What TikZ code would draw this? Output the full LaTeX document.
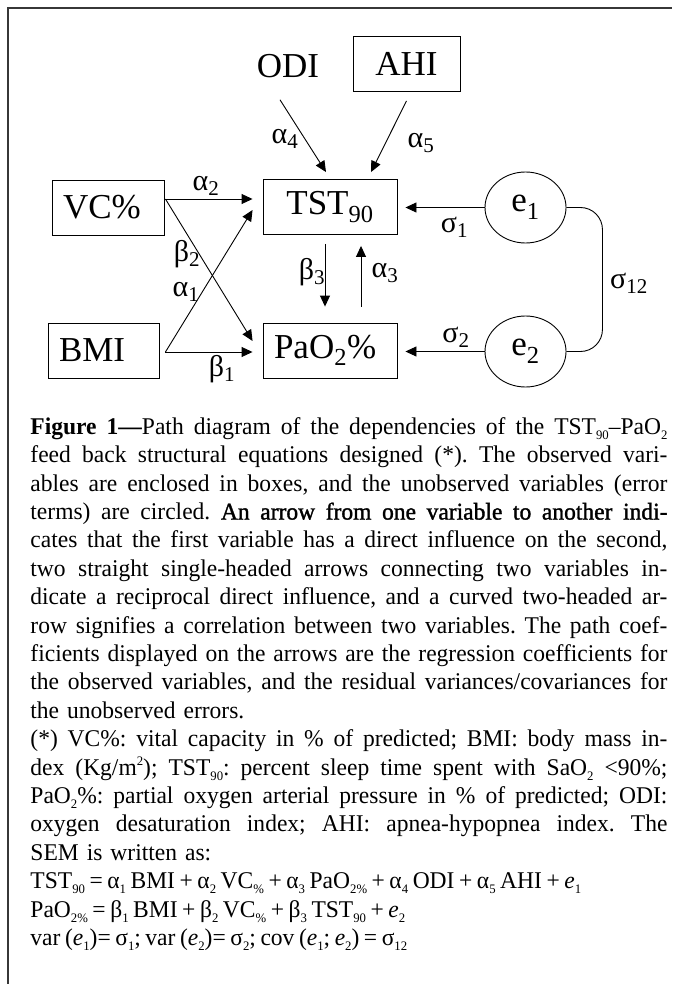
\documentclass[tikz,border=0pt]{standalone}
\usepackage{fontspec}
\setmainfont{Liberation Serif}
\newfontfamily\capfamily[Ligatures=TeX, FakeStretch=0.98]{Liberation Serif}
\newfontfamily\semibf[Ligatures=TeX, FakeBold=1.4, FakeStretch=0.98]{Liberation Serif}
\usetikzlibrary{arrows.meta, shapes.geometric, calc}
\definecolor{FrameColor}{RGB}{55,55,55}
\newcommand{\jline}[1]{\leavevmode\hbox to \linewidth{\spaceskip=0.25em plus 1fil minus 0.1em\relax #1}}
\newcommand{\sbs}[1]{\textsubscript{#1}}
\newcommand{\csub}[1]{\raisebox{-0.45ex}{\fontsize{13}{13}\selectfont #1}}
\newcommand{\csup}[1]{\raisebox{0.85ex}{\fontsize{13}{13}\selectfont #1}}

\begin{document}
\begin{tikzpicture}[x=1pt, y=-1pt, line width=0.9pt,
    arr/.style={-{Triangle[length=11pt,width=10pt]}},
    varbox/.style={draw, inner xsep=11pt, inner ysep=0pt, minimum height=55pt, font=\fontsize{35}{40}\selectfont},
    varname/.style={inner sep=2pt, font=\fontsize{35}{40}\selectfont},
    errnode/.style={draw, ellipse, inner sep=0pt, minimum width=81pt, minimum height=71pt, font=\fontsize{35}{40}\selectfont},
    coef/.style={inner sep=0pt, font=\fontsize{30}{32}\selectfont},
    frameline/.style={FrameColor, line width=2.4pt}]
    \useasboundingbox (0,0) rectangle (672,984);
    % Frame
    \draw[frameline] (8,984) -- (8,8) -- (672,8);
    % Observed variables
    \node[varname, anchor=base] (odi) at (288,78) {ODI};
    \node[varbox, minimum width=107pt] (ahi) at (406.5,64) {AHI};
    \node[varbox, text width=90pt, align=left] (vc) at (108,207.5) {VC\%};
    \node[varbox, minimum width=134pt] (tst) at (330,207) {TST\sbs{90}};
    \node[varbox, text width=89pt, align=left] (bmi) at (103.5,350.5) {BMI};
    \node[varbox, text width=112pt, align=left] (pao) at (330,350.5) {PaO\sbs{2}\%};
    % Errors
    \node[errnode] (e1) at (525.5,207.5) {e\sbs{1}};
    \node[errnode] (e2) at (525.5,351.5) {e\sbs{2}};
    % Paths into TST90
    \draw[arr] ([shift={(-8,19)}]odi.south) -- ([shift={(-4,-7)}]tst.north);
    \draw[arr] ([shift={(0,9)}]ahi.south) -- ([shift={(41,-7)}]tst.north);
    \draw[arr] ([shift={(1,-8.5)}]vc.east) -- ([shift={(-10,-8)}]tst.west);
    \draw[arr] ([shift={(6,1.5)}]bmi.east) -- ([shift={(-10,3)}]tst.west);
    % Paths into PaO2%
    \draw[arr] ([shift={(1,-8.5)}]vc.east) -- ([shift={(-10,-9.5)}]pao.west);
    \draw[arr] ([shift={(6,1.5)}]bmi.east) -- ([shift={(-10,1.5)}]pao.west);
    % Feedback loop
    \draw[arr] ([shift={(-5,9)}]tst.south) -- ([shift={(-5,-16)}]pao.north);
    \draw[arr] ([shift={(31,-16)}]pao.north) -- ([shift={(31,11)}]tst.south);
    % Residuals and covariance
    \draw[arr] (e1.west) -- ([shift={(8,0.5)}]tst.east);
    \draw[arr] (e2.west) -- ([shift={(8,1)}]pao.east);
    \draw[rounded corners=22pt] (e1.east) -- ++(36,0) |- (e2.east);
    % Coefficients
    \node[coef] (a4) at (285,139) {α\sbs{4}};
    \node[coef] (a5) at (421,143) {α\sbs{5}};
    \node[coef] (a2) at (206,186) {α\sbs{2}};
    \node[coef] (b2) at (187,254) {β\sbs{2}};
    \node[coef] (a1) at (186,292) {α\sbs{1}};
    \node[coef] (b1) at (222,369) {β\sbs{1}};
    \node[coef] (b3) at (312,272) {β\sbs{3}};
    \node[coef] (a3) at (385,273) {α\sbs{3}};
    \node[coef] (s1) at (454.5,227) {σ\sbs{1}};
    \node[coef] (s2) at (456,337) {σ\sbs{2}};
    \node[coef] (s12) at (629,283) {σ\sbs{12}};
    % Caption
    \node[anchor=north west, inner sep=0pt, text width=637pt, align=left,
          font=\capfamily\fontsize{24}{28.4}\selectfont\frenchspacing] (caption) at (30,417) {%
      \jline{{\bfseries Figure 1---}Path diagram of the dependencies of the TST\csub{90}--PaO\csub{2}}\\
      \jline{feed back structural equations designed (*). The observed vari-}\\
      \jline{ables are enclosed in boxes, and the unobserved variables (error}\\
      \jline{terms) are circled. {\semibf An arrow from one variable to another indi-}}\\
      \jline{cates that the first variable has a direct influence on the second,}\\
      \jline{two straight single-headed arrows connecting two variables in-}\\
      \jline{dicate a reciprocal direct influence, and a curved two-headed ar-}\\
      \jline{row signifies a correlation between two variables. The path coef-}\\
      \jline{ficients displayed on the arrows are the regression coefficients for}\\
      \jline{the observed variables, and the residual variances/covariances for}\\
      the unobserved errors.\\
      \jline{(*) VC\%: vital capacity in \% of predicted; BMI: body mass in-}\\
      \jline{dex (Kg/m\csup{2}); TST\csub{90}: percent sleep time spent with SaO\csub{2} <90\%;}\\
      \jline{PaO\csub{2}\%: partial oxygen arterial pressure in \% of predicted; ODI:}\\
      \jline{oxygen desaturation index; AHI: apnea-hypopnea index. The}\\
      SEM is written as:\\
      \spaceskip=0.19em plus 0.05em minus 0.02em
      TST\csub{90} = α\csub{1} BMI + α\csub{2} VC\csub{\%} + α\csub{3} PaO\csub{2\%} + α\csub{4} ODI + α\csub{5} AHI + \textit{e}\csub{1}\\
      PaO\csub{2\%} = β\csub{1} BMI + β\csub{2} VC\csub{\%} + β\csub{3} TST\csub{90} + \textit{e}\csub{2}\\
      var (\textit{e}\csub{1})= σ\csub{1}; var (\textit{e}\csub{2})= σ\csub{2}; cov (\textit{e}\csub{1}; \textit{e}\csub{2}) = σ\csub{12}};
\end{tikzpicture}
\end{document}
